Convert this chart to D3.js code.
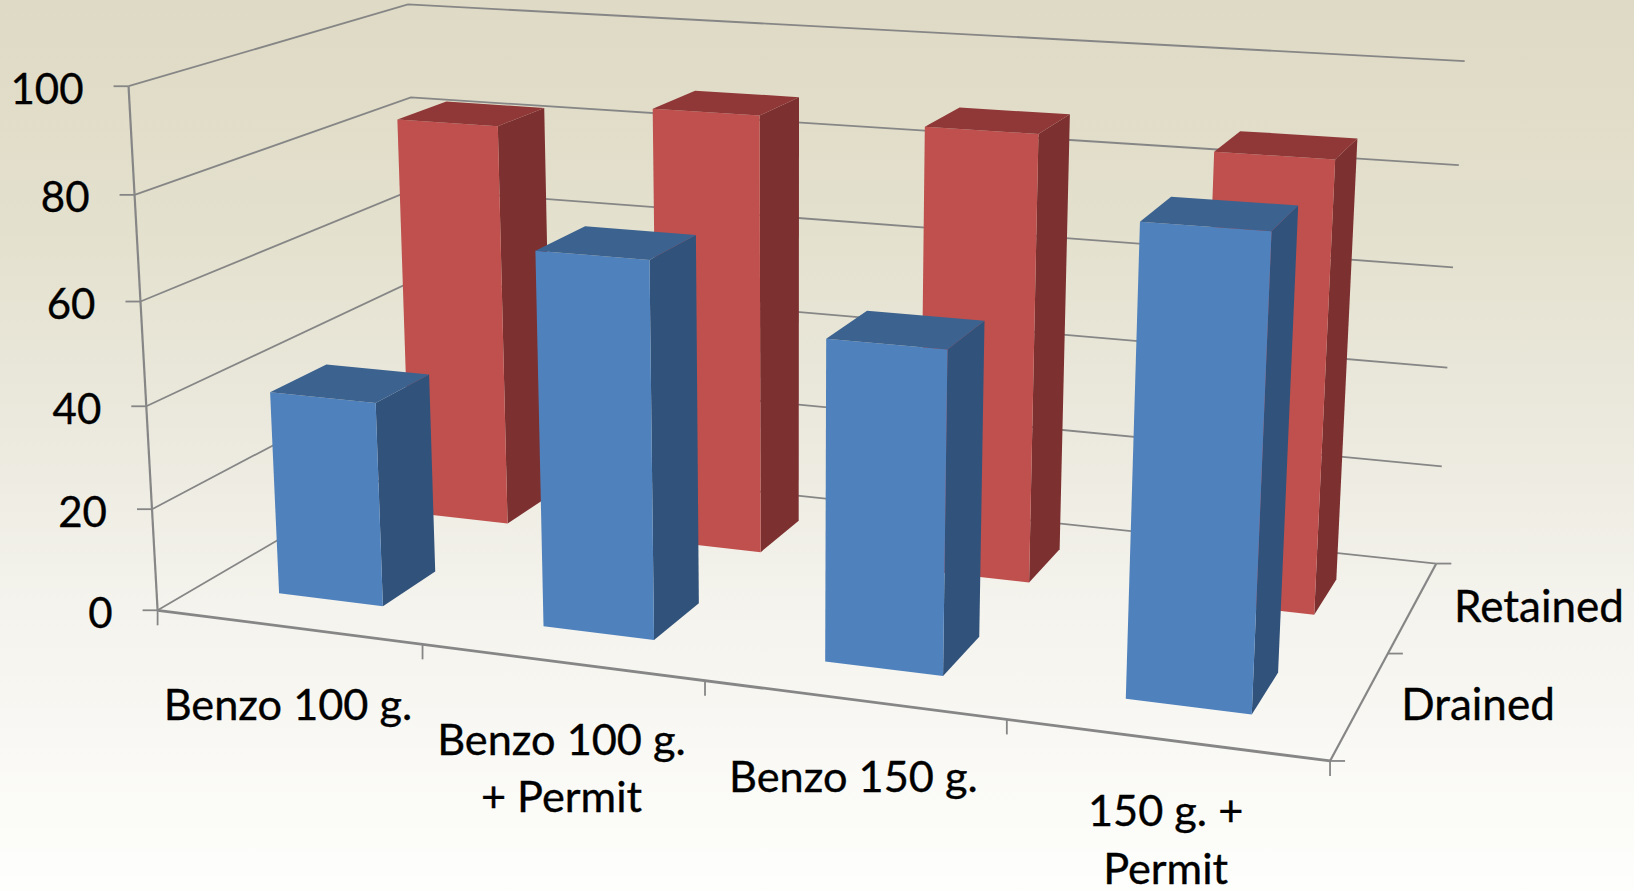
<!DOCTYPE html>
<html>
<head>
<meta charset="utf-8">
<script src="https://cdn.jsdelivr.net/npm/d3@7/dist/d3.min.js"></script>
<style>
  html, body { margin: 0; padding: 0; background: #fff; }
  svg { display: block; }
  text { font-family: Lato, "Noto Sans", sans-serif; fill: #000; stroke: #000; stroke-width: 0.35px; }
</style>
</head>
<body>
<svg id="chart" width="1634" height="891"></svg>
<script>
// Categories along the front axis, each with its wrapped label lines
const categories = ["Benzo 100 g.", "Benzo 100 g. + Permit", "Benzo 150 g.", "150 g. + Permit"];
const categoryLines = [["Benzo 100 g."], ["Benzo 100 g.", "+ Permit"], ["Benzo 150 g."], ["150 g. +", "Permit"]];
// Series along the depth axis, front row first
const seriesNames = ["Drained", "Retained"];
const drained = [40, 71.6, 60, 85];
const retained = [82.8, 88.3, 88.2, 87];
const valueTicks = [0, 20, 40, 60, 80, 100];

const width = 1634, height = 891;
const svg = d3.select("#chart");

// Background wash, parchment at the top fading to near white
const defs = svg.append("defs");
const wash = defs.append("linearGradient").attr("id", "wash")
  .attr("x1", 0).attr("y1", 0).attr("x2", 0).attr("y2", 1);
[[0, "#dfdac5"], [0.25, "#e3e0cd"], [0.47, "#ebe9dd"], [0.68, "#f4f3ed"], [1, "#fefefc"]]
  .forEach(([o, c]) => wash.append("stop").attr("offset", o).attr("stop-color", c));
svg.append("rect").attr("width", width).attr("height", height).attr("fill", "url(#wash)");

// Scales into the unit box of the 3D plot
const xScale = d3.scaleBand().domain(categories).range([0, 4]).paddingInner(0.6).paddingOuter(0.3);
const zScale = d3.scaleBand().domain(seriesNames).range([0, 2]).paddingInner(0.6).paddingOuter(0.3);
const yScale = d3.scaleLinear().domain([0, 100]).range([0, 100]);

// Where known corners of the plot box land on the page: box x, y, z, then page x, y
const boxAnchors = [
  [0, 0, 0, 157.5, 610], [0, 100, 0, 128.6, 86], [0, 40, 0, 146.4, 406],
  [1, 0, 0, 423, 645], [2, 0, 0, 705, 681], [3, 0, 0, 1006, 719.3], [4, 0, 0, 1330, 761],
  [4, 0, 1, 1388.5, 653.3], [4, 0, 2, 1436.2, 563.3],
  [4, 60, 2, 1452.9, 267.3], [4, 100, 2, 1464.8, 61.3],
  [0, 100, 2, 408, 4.3], [0, 80, 2, 410.7, 97.7]
];

// Least-squares pinhole camera through the anchors
function solveCamera(anchors) {
  const n = 11;
  const A = Array.from({ length: n }, () => new Array(n + 1).fill(0));
  const accumulate = (row, rhs) => {
    for (let i = 0; i < n; i++) {
      for (let j = 0; j < n; j++) A[i][j] += row[i] * row[j];
      A[i][n] += row[i] * rhs;
    }
  };
  anchors.forEach(([x, y, z, px, py]) => {
    const X = x / 4, Y = y / 100, Z = z / 2, u = px / 1000, v = py / 1000;
    accumulate([X, Y, Z, 1, 0, 0, 0, 0, -u * X, -u * Y, -u * Z], u);
    accumulate([0, 0, 0, 0, X, Y, Z, 1, -v * X, -v * Y, -v * Z], v);
  });
  for (let c = 0; c < n; c++) {
    let pivot = c;
    for (let r = c + 1; r < n; r++) if (Math.abs(A[r][c]) > Math.abs(A[pivot][c])) pivot = r;
    [A[c], A[pivot]] = [A[pivot], A[c]];
    for (let r = 0; r < n; r++) {
      if (r === c) continue;
      const f = A[r][c] / A[c][c];
      for (let k = c; k <= n; k++) A[r][k] -= f * A[c][k];
    }
  }
  return A.map((row, i) => row[n] / row[i]);
}
const cam = solveCamera(boxAnchors);
function project(x, y, z) {
  const X = x / 4, Y = y / 100, Z = z / 2;
  const w = cam[8] * X + cam[9] * Y + cam[10] * Z + 1;
  return [
    1000 * (cam[0] * X + cam[1] * Y + cam[2] * Z + cam[3]) / w,
    1000 * (cam[4] * X + cam[5] * Y + cam[6] * Z + cam[7]) / w
  ];
}

const gridColor = "#868686";
const line = d3.line();
const plot = svg.append("g");

// Gridlines across the left and back walls
plot.append("g").selectAll("path").data(valueTicks).join("path")
  .attr("d", v => line([project(0, yScale(v), 0), project(0, yScale(v), 2), project(4, yScale(v), 2)]))
  .attr("fill", "none").attr("stroke", gridColor).attr("stroke-width", 1.8);

// Floor edges and the front value axis
const frame = [
  { pts: [project(0, 0, 0), project(0, 100, 0)], w: 2.2 },
  { pts: [project(0, 0, 0), project(4, 0, 0)], w: 2.8 },
  { pts: [project(4, 0, 0), project(4, 0, 2)], w: 2.2 }
];
plot.append("g").selectAll("path").data(frame).join("path")
  .attr("d", d => line(d.pts)).attr("fill", "none")
  .attr("stroke", gridColor).attr("stroke-width", d => d.w);

// Tick marks stay screen-aligned whatever the perspective does
const tickLen = 15;
const tickSegs = [
  ...valueTicks.map(v => { const p = project(0, yScale(v), 0); return [p, [p[0] - tickLen, p[1]]]; }),
  ...d3.range(0, 5).map(i => { const p = project(i, 0, 0); return [p, [p[0], p[1] + tickLen]]; }),
  ...d3.range(0, 3).map(i => { const p = project(4, 0, i); return [p, [p[0] + tickLen, p[1]]]; })
];
plot.append("g").selectAll("path").data(tickSegs).join("path")
  .attr("d", d => line(d)).attr("stroke", gridColor).attr("stroke-width", 1.8).attr("fill", "none");

// Bars, back row first so the front row overlaps it
const palette = {
  Drained: { front: "#4f81bd", side: "#31527a", top: "#3c628f" },
  Retained: { front: "#c0504d", side: "#7c3030", top: "#903838" }
};
const rows = [
  { name: "Retained", values: retained },
  { name: "Drained", values: drained }
];
const faceOf = (name, cat, value) => {
  const x0 = xScale(cat), x1 = x0 + xScale.bandwidth();
  const z0 = zScale(name), z1 = z0 + zScale.bandwidth();
  const y1 = yScale(value);
  return [
    { kind: "side", pts: [project(x1, 0, z0), project(x1, 0, z1), project(x1, y1, z1), project(x1, y1, z0)] },
    { kind: "front", pts: [project(x0, 0, z0), project(x1, 0, z0), project(x1, y1, z0), project(x0, y1, z0)] },
    { kind: "top", pts: [project(x0, y1, z0), project(x1, y1, z0), project(x1, y1, z1), project(x0, y1, z1)] }
  ];
};
rows.forEach(row => {
  const g = plot.append("g").attr("class", "series-" + row.name);
  const bars = g.selectAll("g").data(categories.map((c, i) => ({ cat: c, value: row.values[i] }))).join("g");
  bars.selectAll("path").data(d => faceOf(row.name, d.cat, d.value)).join("path")
    .attr("d", f => line(f.pts) + "Z")
    .attr("fill", f => palette[row.name][f.kind]);
});

// Value labels
const fontSize = 43.3;
svg.append("g").selectAll("text").data(valueTicks).join("text")
  .attr("x", v => project(0, yScale(v), 0)[0] - 45)
  .attr("y", v => project(0, yScale(v), 0)[1] + 17.5)
  .attr("text-anchor", "end").attr("font-size", 42)
  .text(v => v);

// Category labels under the front axis
const labelDrop = [92.5, 92.5, 92.5, 86.5];
const lineGap = 57.7;
svg.append("g").selectAll("text").data(categories).join("text")
  .attr("text-anchor", "middle").attr("font-size", fontSize)
  .each(function (c, i) {
    const p = project(xScale(c) + xScale.bandwidth() / 2, 0, 0);
    d3.select(this).selectAll("tspan").data(categoryLines[i]).join("tspan")
      .attr("x", p[0])
      .attr("y", (t, k) => p[1] + labelDrop[i] + k * lineGap)
      .text(t => t);
  });

// Series labels beside the depth axis
svg.append("g").selectAll("text").data(seriesNames).join("text")
  .attr("x", s => project(4, 0, zScale(s) + zScale.bandwidth() / 2)[0] + 41)
  .attr("y", s => project(4, 0, zScale(s) + zScale.bandwidth() / 2)[1] + 15.5)
  .attr("font-size", 44)
  .text(s => s);
</script>
</body>
</html>
